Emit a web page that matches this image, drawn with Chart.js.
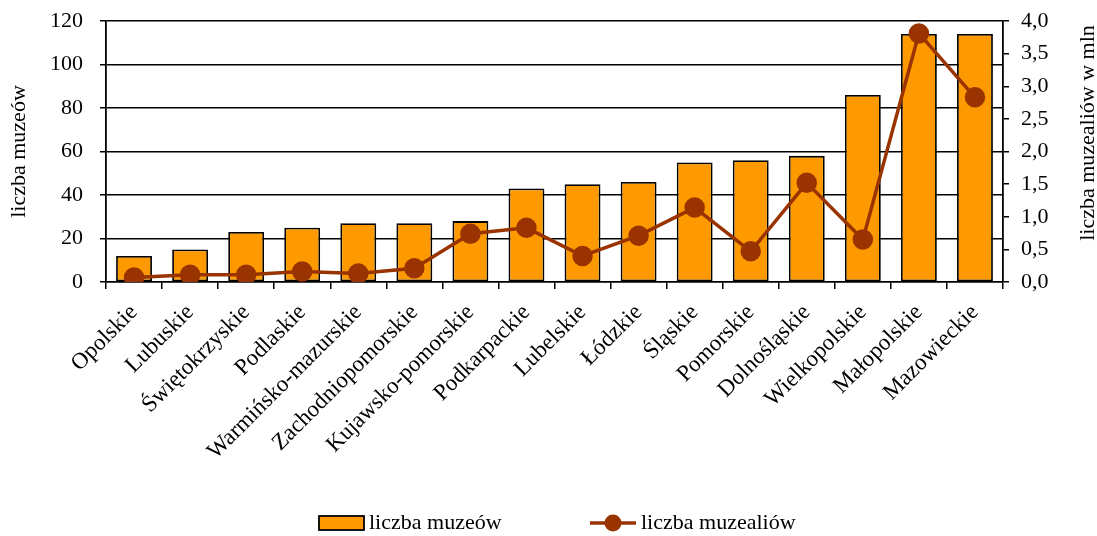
<!DOCTYPE html>
<html>
<head>
<meta charset="utf-8">
<script src="https://cdn.jsdelivr.net/npm/chart.js@4"></script>
<style>
html,body{margin:0;padding:0;background:#fff;}
#wrap{width:1097px;height:536px;position:relative;}
</style>
</head>
<body>
<div id="wrap"><canvas id="c" width="1097" height="536"></canvas></div>
<script>
const categories = ["Opolskie","Lubuskie","Świętokrzyskie","Podlaskie","Warmińsko-mazurskie","Zachodniopomorskie","Kujawsko-pomorskie","Podkarpackie","Lubelskie","Łódzkie","Śląskie","Pomorskie","Dolnośląskie","Wielkopolskie","Małopolskie","Mazowieckie"];
const museums = [12,15,23,25,27,27,28,43,45,46,55,56,58,86,114,114];
const exhibits = [0.07,0.11,0.11,0.16,0.13,0.21,0.74,0.83,0.40,0.71,1.14,0.47,1.52,0.65,3.81,2.83];
const leftTicks = [0,20,40,60,80,100,120];
const rightTicks = [0,0.5,1,1.5,2,2.5,3,3.5,4];
const leftTitle = "liczba muzeów";
const rightTitle = "liczba muzealiów w mln";
const seriesNames = ["liczba muzeów","liczba muzealiów"];

const FONT = "'Liberation Serif', 'Times New Roman', serif";
const FS = 22;
const BAR = "#FF9900";
const LINE = "#993300";

function zeroPad(s) { s.paddingTop = 0; s.paddingBottom = 0; s.paddingLeft = 0; s.paddingRight = 0; }

const legendPlugin = {
  id: 'customLegend',
  afterDraw(chart) {
    const ctx = chart.ctx;
    const cy = 523;
    ctx.save();
    ctx.font = FS + "px " + FONT;
    ctx.textBaseline = "middle";
    ctx.textAlign = "left";
    ctx.fillStyle = BAR;
    ctx.fillRect(319, cy - 7, 45, 14);
    ctx.strokeStyle = "#000";
    ctx.lineWidth = 1.8;
    ctx.strokeRect(319, cy - 7, 45, 14);
    ctx.fillStyle = "#000";
    ctx.fillText(seriesNames[0], 369, cy);
    ctx.strokeStyle = LINE;
    ctx.lineWidth = 3.5;
    ctx.beginPath();
    ctx.moveTo(590, cy);
    ctx.lineTo(636, cy);
    ctx.stroke();
    ctx.fillStyle = LINE;
    ctx.beginPath();
    ctx.arc(613, cy, 8.5, 0, Math.PI * 2);
    ctx.fill();
    ctx.fillStyle = "#000";
    ctx.fillText(seriesNames[1], 641, cy);
    ctx.restore();
  }
};

const rightTitlePlugin = {
  id: 'rightTitle',
  afterDraw(chart) {
    const ctx = chart.ctx;
    ctx.save();
    ctx.translate(1088, 133);
    ctx.rotate(-Math.PI / 2);
    ctx.font = FS + "px " + FONT;
    ctx.fillStyle = "#000";
    ctx.textAlign = "center";
    ctx.textBaseline = "middle";
    ctx.fillText(rightTitle, 0, 0);
    ctx.restore();
  }
};

new Chart(document.getElementById('c'), {
  data: {
    labels: categories,
    datasets: [
      {
        type: 'bar',
        label: seriesNames[0],
        data: museums,
        backgroundColor: BAR,
        borderColor: "#000",
        borderWidth: 1.8,
        borderSkipped: false,
        barPercentage: 0.64,
        categoryPercentage: 1,
        yAxisID: 'y',
        order: 2
      },
      {
        type: 'line',
        label: seriesNames[1],
        data: exhibits,
        borderColor: LINE,
        backgroundColor: LINE,
        borderWidth: 3.5,
        pointRadius: 8.5,
        pointHoverRadius: 8.5,
        pointBackgroundColor: LINE,
        pointBorderColor: LINE,
        tension: 0,
        yAxisID: 'y1',
        order: 1
      }
    ]
  },
  options: {
    responsive: false,
    animation: false,
    layout: { padding: { top: 21, left: 0, right: 0, bottom: 60 } },
    plugins: {
      tooltip: { enabled: false },
      legend: { display: false }
    },
    scales: {
      x: {
        offset: true,
        afterFit(s) { s.height = 194; zeroPad(s); },
        grid: { display: true, drawOnChartArea: false, offset: true, color: "#000", lineWidth: 1.5, tickLength: 7 },
        border: { display: true, color: "#000", width: 1.5 },
        ticks: { font: { family: FONT, size: 23 }, color: "#000", maxRotation: 45, minRotation: 45, autoSkip: false, padding: 10 }
      },
      y: {
        position: 'left',
        min: 0, max: 120,
        afterBuildTicks(s) { s.ticks = leftTicks.map(v => ({ value: v })); },
        afterFit(s) { s.width = 106; zeroPad(s); },
        grid: { color: "#000", lineWidth: 1.5, tickLength: 6 },
        border: { display: true, color: "#000", width: 1.8 },
        ticks: { font: { family: FONT, size: FS }, color: "#000", padding: 17 },
        title: { display: true, text: leftTitle, font: { family: FONT, size: FS }, color: "#000", padding: { top: 6, bottom: 4 } }
      },
      y1: {
        position: 'right',
        min: 0, max: 4,
        afterBuildTicks(s) { s.ticks = rightTicks.map(v => ({ value: v })); },
        afterFit(s) { s.width = 94; zeroPad(s); },
        grid: { drawOnChartArea: false, color: "#000", lineWidth: 1.5, tickLength: 6 },
        border: { display: true, color: "#000", width: 1.8 },
        ticks: { font: { family: FONT, size: FS }, color: "#000", padding: 12,
          callback: v => Number(v).toFixed(1).replace('.', ',') }
      }
    }
  },
  plugins: [legendPlugin, rightTitlePlugin]
});
</script>
</body>
</html>
